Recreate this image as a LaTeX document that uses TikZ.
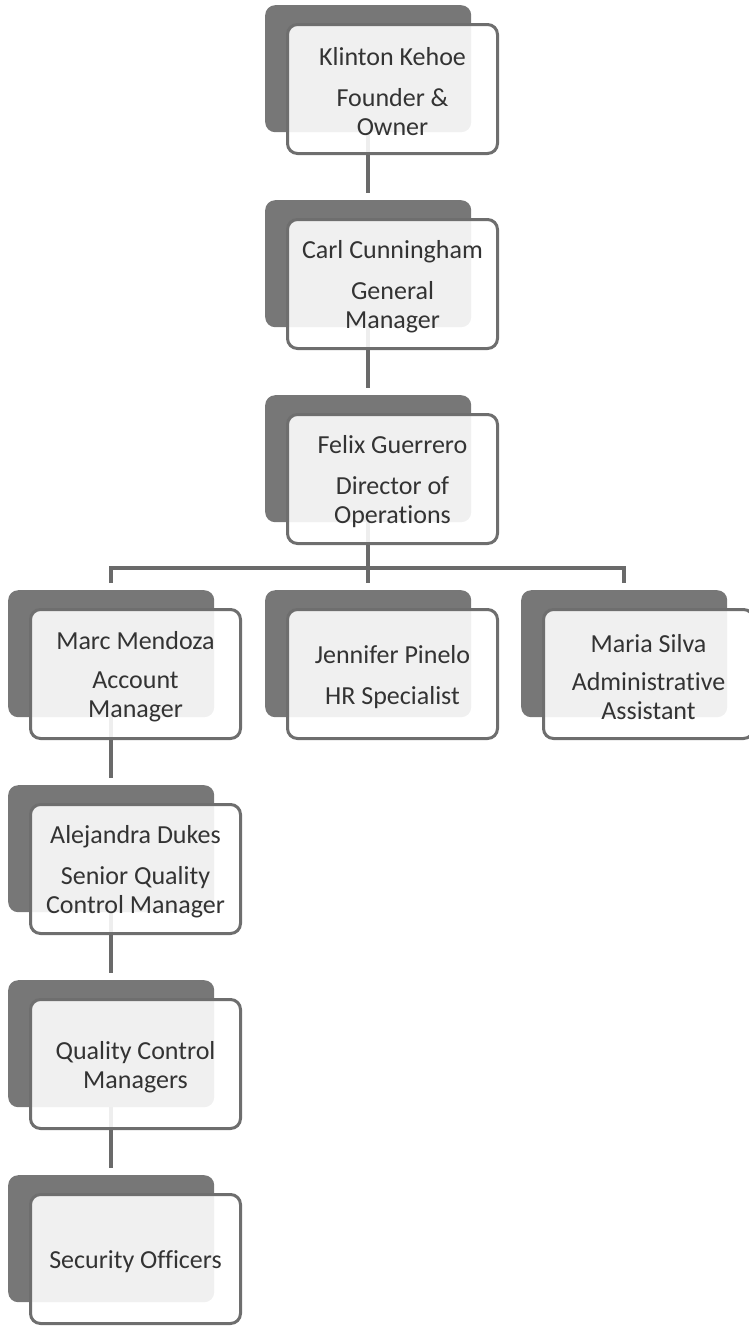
\documentclass[tikz,border=0pt]{standalone}
\usepackage{fontspec}
\setmainfont{Carlito}[Ligatures=NoCommon]
\definecolor{backgray}{HTML}{777777}
\definecolor{edgegray}{HTML}{6E6E6E}
\definecolor{linegray}{HTML}{6A6A6A}
\definecolor{txtgray}{HTML}{333333}
\pgfdeclarelayer{bg}
\pgfsetlayers{bg,main}
\tikzset{
  backbox/.style={fill=backgray, rounded corners=10pt, minimum width=206pt,
    minimum height=127pt, inner sep=0pt, anchor=north west},
  frontbox/.style={draw=edgegray, line width=3pt, fill=white, fill opacity=0.89,
    rounded corners=10pt, minimum width=210pt, minimum height=129pt, inner sep=0pt},
  boxtext/.style={align=center, text=txtgray, inner sep=0pt,
    font=\fontsize{26}{29}\selectfont},
  conn/.style={draw=linegray, line width=4pt}
}
\newcommand{\orgbox}[4]{%
  \node[backbox] (#1) at (#2,-#3) {};
  \node[frontbox] (#1f) at ([xshift=127.5pt,yshift=-84pt]#1.north west) {};
  \node[boxtext] (#1t) at ([yshift=-3pt]#1f.center) {#4};
}
\begin{document}
\begin{tikzpicture}[x=1pt,y=1pt]
\useasboundingbox (0,0) rectangle (749,-1326);
\orgbox{b1}{265}{5}{Klinton Kehoe\\[12pt]Founder \&\\Owner}
\orgbox{b2}{265}{200}{Carl Cunningham\\[12pt]General\\Manager}
\orgbox{b3}{265}{395}{Felix Guerrero\\[12pt]Director of\\Operations}
\orgbox{b4a}{8}{590}{Marc Mendoza\\[10pt]Account\\Manager}
\orgbox{b4b}{265}{590}{Jennifer Pinelo\\[12pt]HR Specialist}
\orgbox{b4c}{521}{590}{Maria Silva\\[9pt]Administrative\\Assistant}
\orgbox{b5}{8}{785}{Alejandra Dukes\\[12pt]Senior Quality\\Control Manager}
\orgbox{b6}{8}{980}{Quality Control\\Managers}
\orgbox{b7}{8}{1175}{Security Officers}
\begin{pgfonlayer}{bg}
\draw[conn] (b1.south) -- ([yshift=7pt]b2.north);
\draw[conn] (b2.south) -- ([yshift=7pt]b3.north);
\draw[conn] (b3.south) -- ([yshift=7pt]b4b.north);
\draw[conn] ([yshift=7pt]b4a.north) -- ++(0,15) -| ([yshift=7pt]b4c.north);
\draw[conn] (b4a.south) -- ([yshift=7pt]b5.north);
\draw[conn] (b5.south) -- ([yshift=7pt]b6.north);
\draw[conn] (b6.south) -- ([yshift=7pt]b7.north);
\end{pgfonlayer}
\end{tikzpicture}
\end{document}
